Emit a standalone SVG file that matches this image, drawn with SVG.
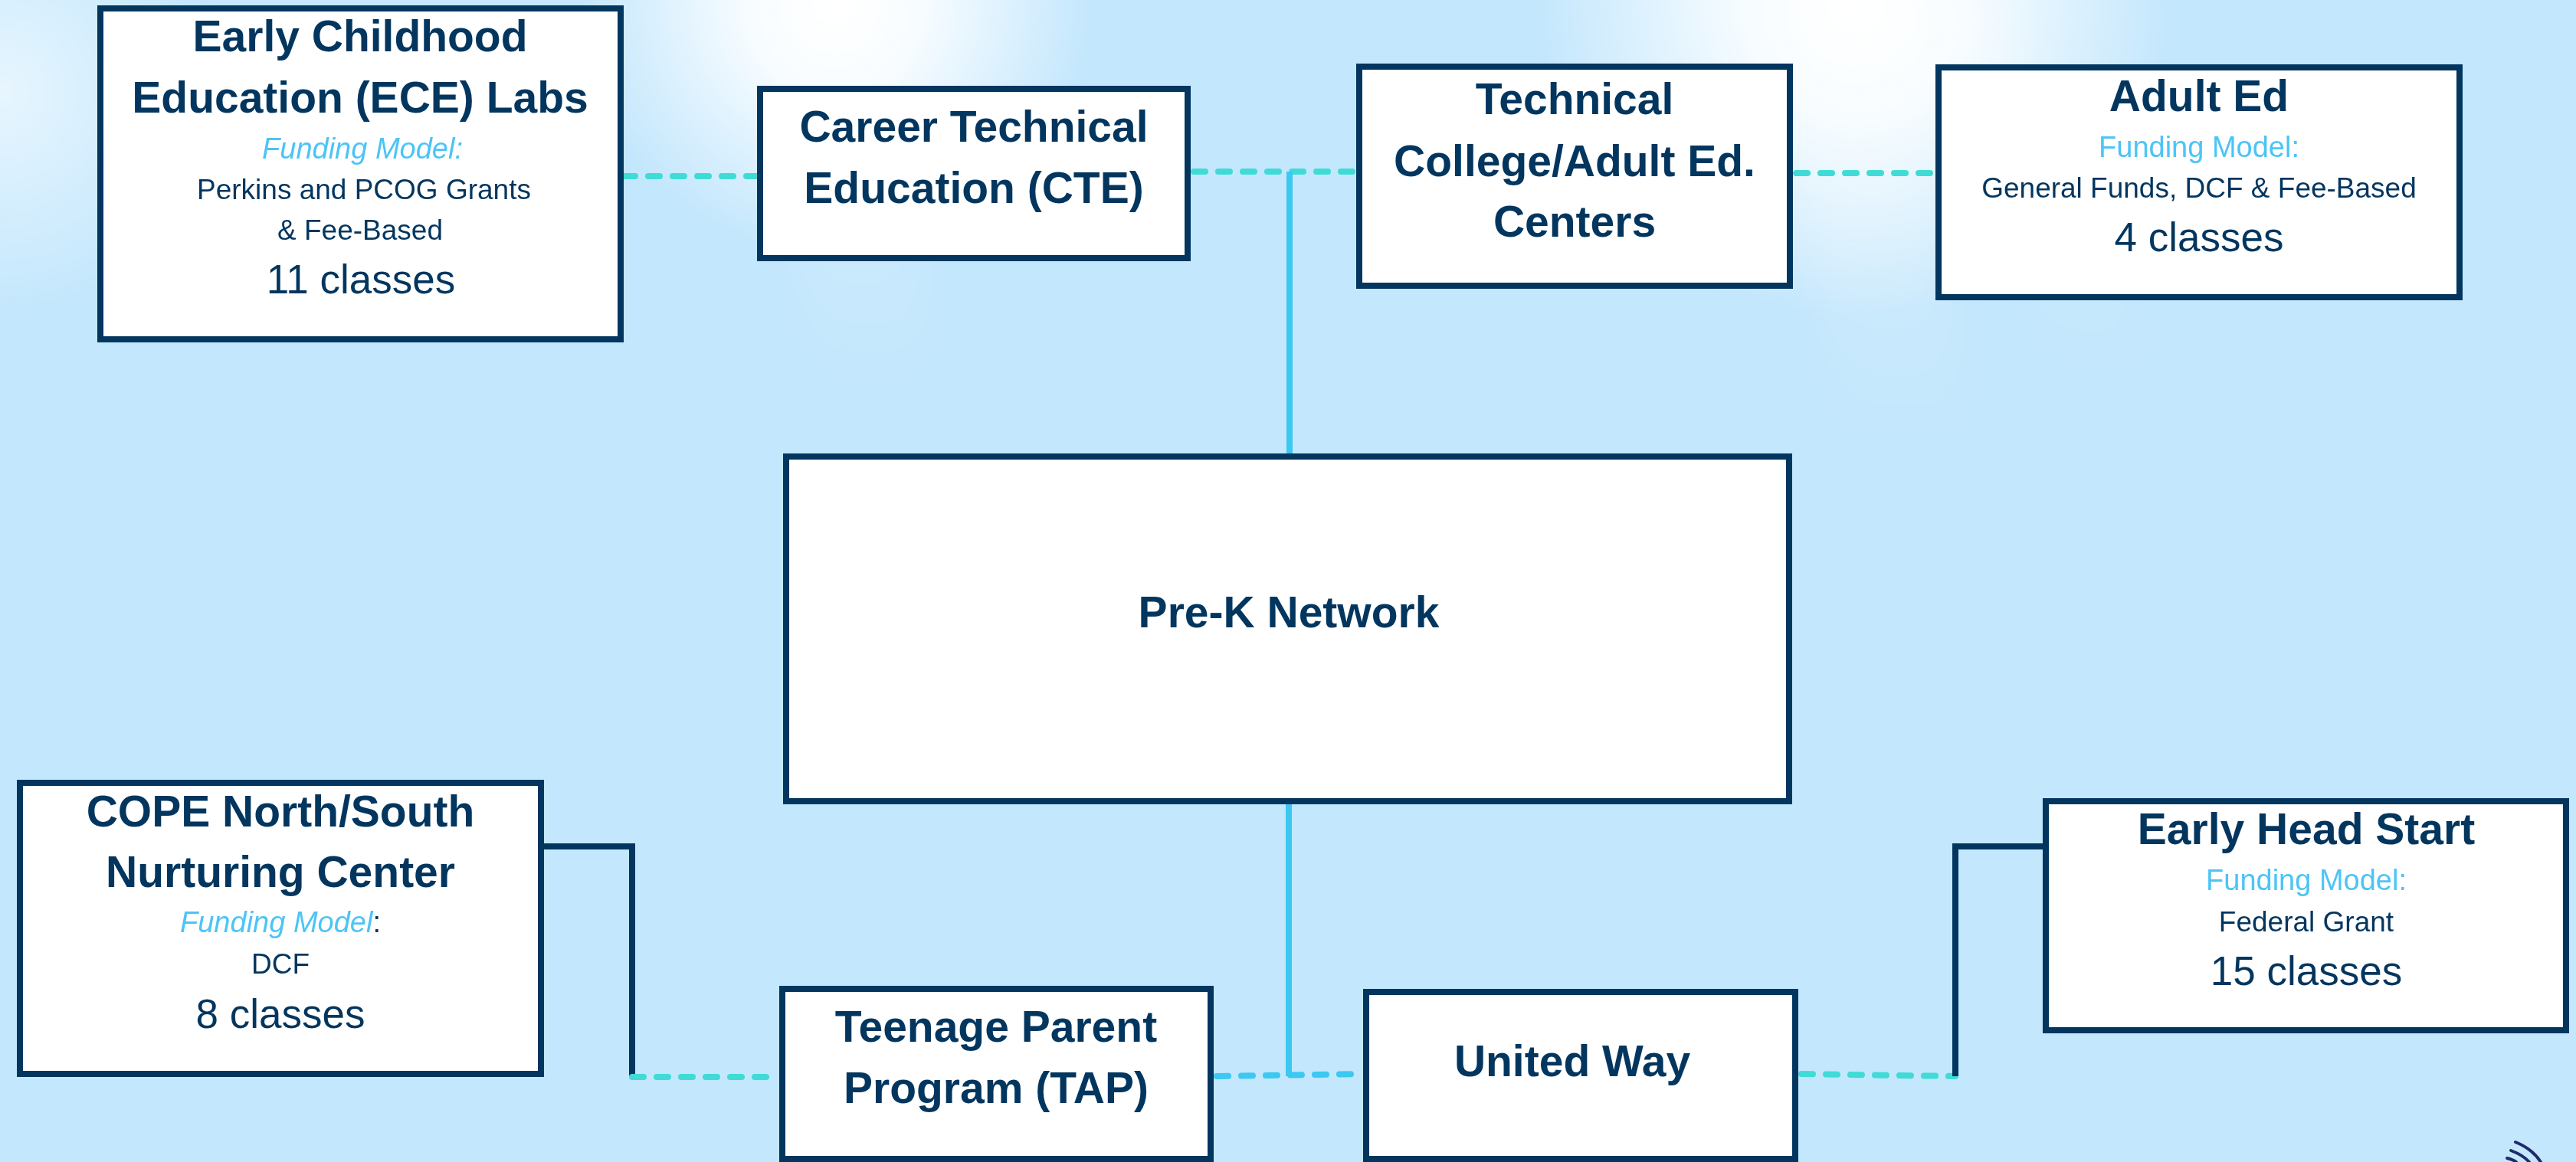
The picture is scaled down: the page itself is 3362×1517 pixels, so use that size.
<svg xmlns="http://www.w3.org/2000/svg" width="3362" height="1517" viewBox="0 0 3362 1517">
  <defs>
    <radialGradient id="glow1" gradientUnits="userSpaceOnUse" cx="1090" cy="0" r="340">
      <stop offset="0" stop-color="#ffffff" stop-opacity="1"/>
      <stop offset="0.35" stop-color="#ffffff" stop-opacity="0.85"/>
      <stop offset="1" stop-color="#ffffff" stop-opacity="0"/>
    </radialGradient>
    <radialGradient id="glow2" gradientUnits="userSpaceOnUse" cx="2420" cy="0" r="420">
      <stop offset="0" stop-color="#ffffff" stop-opacity="1"/>
      <stop offset="0.35" stop-color="#ffffff" stop-opacity="0.85"/>
      <stop offset="1" stop-color="#ffffff" stop-opacity="0"/>
    </radialGradient>
    <radialGradient id="glow3" gradientUnits="userSpaceOnUse" cx="0" cy="120" r="300">
      <stop offset="0" stop-color="#ffffff" stop-opacity="0.6"/>
      <stop offset="1" stop-color="#ffffff" stop-opacity="0"/>
    </radialGradient>
    <linearGradient id="ray" x1="0" y1="0" x2="0" y2="1">
      <stop offset="0" stop-color="#ffffff" stop-opacity="0.5"/>
      <stop offset="1" stop-color="#ffffff" stop-opacity="0"/>
    </linearGradient>
    <filter id="soft" x="-50%" y="-20%" width="200%" height="140%">
      <feGaussianBlur stdDeviation="30"/>
    </filter>
    <style>
      .box { fill: #ffffff; stroke: #03365f; stroke-width: 8; }
      .title { font-family: "Liberation Sans", Arial, sans-serif; font-weight: bold; font-size: 57px; fill: #03365f; text-anchor: middle; }
      .fund { font-family: "Liberation Sans", Arial, sans-serif; font-size: 38px; fill: #4cc4f6; text-anchor: middle; }
      .fund-i { font-style: italic; }
      .body { font-family: "Liberation Sans", Arial, sans-serif; font-size: 37px; fill: #03365f; text-anchor: middle; }
      .count { font-family: "Liberation Sans", Arial, sans-serif; font-size: 53px; fill: #03365f; text-anchor: middle; }
      .dash-teal { fill: none; stroke: #40dbd6; stroke-width: 8; stroke-linecap: round; stroke-dasharray: 15 17; }
      .dash-blue { fill: none; stroke: #3cc8f0; stroke-width: 8; stroke-linecap: round; stroke-dasharray: 15 17; }
      .solid-blue { fill: none; stroke: #3cc8f0; stroke-width: 8; }
      .solid-navy { fill: none; stroke: #03365f; stroke-width: 8; }
      .deco { fill: none; stroke: #1f2a6b; stroke-width: 4; stroke-linecap: round; }
    </style>
  </defs>

  <!-- background -->
  <rect x="0" y="0" width="3362" height="1517" fill="#c3e7fd"/>
  <g filter="url(#soft)">
    <polygon points="1000,0 1160,0 1230,520 1060,520" fill="url(#ray)" opacity="0.7"/>
    <polygon points="2320,0 2500,0 2580,600 2400,600" fill="url(#ray)" opacity="0.7"/>
    <polygon points="2450,0 2600,0 2850,520 2700,520" fill="url(#ray)" opacity="0.5"/>
  </g>
  <rect x="0" y="0" width="3362" height="500" fill="url(#glow1)"/>
  <rect x="0" y="0" width="3362" height="500" fill="url(#glow2)"/>
  <rect x="0" y="0" width="400" height="500" fill="url(#glow3)"/>

  <!-- connectors -->
  <g id="connectors">
    <path class="dash-teal" d="M814 230 H988"/>
    <path class="dash-teal" d="M1558 224 H1770"/>
    <path class="dash-teal" d="M2344 226 H2526"/>
    <path class="solid-blue" d="M1683 224 V594"/>
    <path class="solid-blue" d="M1682 1048 V1405"/>
    <path class="dash-blue" d="M1588 1405 L1779 1402"/>
    <path class="solid-navy" d="M710 1105 H825 V1406"/>
    <path class="dash-teal" d="M825 1406 H1017"/>
    <path class="dash-teal" d="M2351 1402 L2552 1405"/>
    <path class="solid-navy" d="M2552 1405 V1105 H2666"/>
  </g>

  <g id="node-ece">
    <rect class="box" x="131" y="11" width="679" height="432"/>
    <text class="title" x="470" y="67">Early Childhood</text>
    <text class="title" x="470" y="147">Education (ECE) Labs</text>
    <text class="fund fund-i" x="473" y="207">Funding Model:</text>
    <text class="body" x="475" y="260">Perkins and PCOG Grants</text>
    <text class="body" x="470" y="313">&amp; Fee-Based</text>
    <text class="count" x="471" y="383">11 classes</text>
  </g>

  <g id="node-cte">
    <rect class="box" x="992" y="116" width="558" height="221"/>
    <text class="title" x="1271" y="185">Career Technical</text>
    <text class="title" x="1271" y="265">Education (CTE)</text>
  </g>

  <g id="node-tc">
    <rect class="box" x="1774" y="87" width="562" height="286"/>
    <text class="title" x="2055" y="149">Technical</text>
    <text class="title" x="2055" y="230">College/Adult Ed.</text>
    <text class="title" x="2055" y="309">Centers</text>
  </g>

  <g id="node-adult">
    <rect class="box" x="2530" y="88" width="680" height="300"/>
    <text class="title" x="2870" y="145">Adult Ed</text>
    <text class="fund" x="2870" y="205">Funding Model:</text>
    <text class="body" x="2870" y="258">General Funds, DCF &amp; Fee-Based</text>
    <text class="count" x="2870" y="328">4 classes</text>
  </g>

  <g id="node-prek">
    <rect class="box" x="1026" y="596" width="1309" height="450"/>
    <text class="title" x="1682" y="819">Pre-K Network</text>
  </g>

  <g id="node-cope">
    <rect class="box" x="26" y="1022" width="680" height="380"/>
    <text class="title" x="366" y="1079">COPE North/South</text>
    <text class="title" x="366" y="1158">Nurturing Center</text>
    <text class="fund" x="366" y="1217"><tspan class="fund-i">Funding Model</tspan><tspan fill="#03365f">:</tspan></text>
    <text class="body" x="366" y="1271">DCF</text>
    <text class="count" x="366" y="1342">8 classes</text>
  </g>

  <g id="node-tap">
    <rect class="box" x="1021" y="1291" width="559" height="222"/>
    <text class="title" x="1300" y="1360">Teenage Parent</text>
    <text class="title" x="1300" y="1440">Program (TAP)</text>
  </g>

  <g id="node-uw">
    <rect class="box" x="1783" y="1295" width="560" height="218"/>
    <text class="title" x="2052" y="1405">United Way</text>
  </g>

  <g id="node-ehs">
    <rect class="box" x="2670" y="1046" width="679" height="299"/>
    <text class="title" x="3010" y="1102">Early Head Start</text>
    <text class="fund" x="3010" y="1162">Funding Model:</text>
    <text class="body" x="3010" y="1216">Federal Grant</text>
    <text class="count" x="3010" y="1286">15 classes</text>
  </g>

  <!-- corner decoration -->
  <path class="deco" d="M3283 1491 Q3305 1500 3316 1517"/>
  <path class="deco" d="M3277 1502 Q3293 1508 3301 1517"/>
  <path class="deco" d="M3272 1512 Q3280 1514 3284 1517"/>
</svg>
